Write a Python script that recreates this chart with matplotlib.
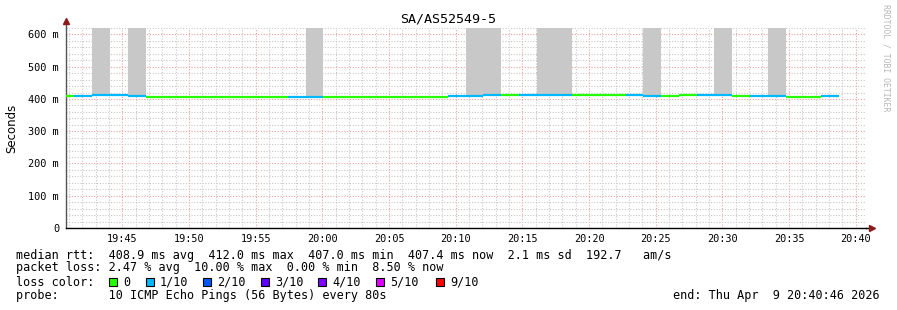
import numpy as np
import matplotlib.pyplot as plt
from matplotlib.ticker import MultipleLocator, FuncFormatter
from matplotlib.patches import Rectangle

# Chart data
title = "SA/AS52549-5"
start_min = 40 + 46 / 60.0      # 19:40:46 as minutes after 19:00
end_min = 100 + 46 / 60.0       # 20:40:46
first_step_min = 41 + 24 / 60.0 # first full 80 s step starts 19:41:24
step_sec = 80

# median rtt per step in ms (first value is the partial step before first_step_min)
median_ms = [408, 409, 412, 412, 410,
             407.5, 407.5, 407.5, 407.5, 407.5, 407.5, 407.5, 407.5,
             407, 407,
             407.5, 407.5, 407.5, 407.5, 407.5, 407.5, 407.5,
             408, 410, 412, 412, 412, 412, 412,
             411, 411, 411,
             412, 410, 409, 411.5, 412, 412, 409, 408, 408,
             407.5, 407.5, 409]
# lost pings out of 10 per step
lost = [0, 1, 1, 1, 1,
        0, 0, 0, 0, 0, 0, 0, 0,
        1, 1,
        0, 0, 0, 0, 0, 0, 0,
        1, 1, 1, 0, 1, 1, 1,
        0, 0, 0,
        1, 1, 0, 0, 1, 1, 0, 1, 1,
        0, 0, 1]
# top of the smoke (ms), 0 where no smoke
smoke_ms = [0, 0, 620, 0, 620,
            0, 0, 0, 0, 0, 0, 0, 0,
            0, 620,
            0, 0, 0, 0, 0, 0, 0,
            0, 620, 620, 0, 0, 620, 620,
            0, 0, 0,
            0, 620, 0, 0, 0, 620, 0, 0, 620,
            0, 0, 0]

loss_labels = ["0", "1/10", "2/10", "3/10", "4/10", "5/10", "9/10"]
loss_colors = ["#26ff00", "#00b8ff", "#0059ff", "#5e00ff", "#7e00ff", "#dd00ff", "#ff0000"]

stat_lines = [
    "median rtt:  408.9 ms avg  412.0 ms max  407.0 ms min  407.4 ms now  2.1 ms sd  192.7   am/s",
    "packet loss: 2.47 % avg  10.00 % max  0.00 % min  8.50 % now",
    "loss color:",
    "probe:       10 ICMP Echo Pings (56 Bytes) every 80s",
]
end_text = "end: Thu Apr  9 20:40:46 2026"

# step edges
step = step_sec / 60.0
n = len(median_ms)
lefts = [start_min] + [first_step_min + step * k for k in range(n - 1)]
rights = [first_step_min + step * k for k in range(n)]

W, H = 897, 310
fig = plt.figure(figsize=(W / 100, H / 100), dpi=100)
ax = fig.add_axes([66 / W, (H - 228) / H, 800 / W, 200 / H])

mono = "DejaVu Sans Mono"

# smoke
for l, r, m, s in zip(lefts, rights, median_ms, smoke_ms):
    if s > 0:
        ax.bar(l, s - m, bottom=m, width=r - l, align="edge", color="#c8c8c8", lw=0, zorder=2)

# median line coloured by loss
cols = [loss_colors[min(x, 6)] for x in lost]
ax.hlines(median_ms, lefts, rights, colors=cols, lw=1.6, zorder=3)

ax.set_xlim(start_min, end_min)
ax.set_ylim(0, 620)
ax.xaxis.set_major_locator(MultipleLocator(5))
ax.xaxis.set_minor_locator(MultipleLocator(1))
ax.yaxis.set_major_locator(MultipleLocator(100))
ax.yaxis.set_minor_locator(MultipleLocator(20))
ax.xaxis.set_major_formatter(FuncFormatter(lambda v, p: "%02d:%02d" % (19 + int(round(v)) // 60, int(round(v)) % 60)))
ax.yaxis.set_major_formatter(FuncFormatter(lambda v, p: "0" if v == 0 else "%d m" % v))

ax.grid(which="minor", color="#c8c8c8", linestyle=(0, (1, 1.5)), lw=0.8, zorder=0)
ax.grid(which="major", color="#f0a0a0", linestyle=(0, (1, 1.5)), lw=0.8, zorder=1)
ax.set_axisbelow(True)

ax.tick_params(which="both", length=0, labelsize=7.4, pad=5)
ax.tick_params(axis="x", pad=4)
for lab in ax.get_xticklabels() + ax.get_yticklabels():
    lab.set_family(mono)

for s in ["top", "right"]:
    ax.spines[s].set_visible(False)
ax.spines["left"].set_color("#555555")
ax.spines["bottom"].set_color("black")
ax.spines["left"].set_linewidth(1.0)
ax.spines["bottom"].set_linewidth(1.0)

# axis arrows
ax.plot([0, 0], [1, 1.03], color="#555555", lw=1.0, transform=ax.transAxes, clip_on=False)
ax.plot([0], [1.035], marker="^", color="#8b1a1a", ms=4, transform=ax.transAxes, clip_on=False)
ax.plot([1, 1.005], [0, 0], color="black", lw=1.0, transform=ax.transAxes, clip_on=False)
ax.plot([1.007], [0], marker=">", color="#8b1a1a", ms=4, transform=ax.transAxes, clip_on=False)

ax.set_ylabel("Seconds", fontsize=8.5, family="DejaVu Sans", labelpad=7)

fig.text(0.5, 1 - 19 / H, title, ha="center", va="center", fontsize=9.6, family=mono)
fig.text(886 / W, 1 - 4 / H, "RRDTOOL / TOBI OETIKER", rotation=270, ha="center", va="top",
         fontsize=5.9, family=mono, color="#b8b8b8")

ys = [255, 268, 282, 296]
for t, y in zip(stat_lines, ys):
    fig.text(16 / W, 1 - y / H, t, ha="left", va="center", fontsize=8.5, family=mono)
fig.text(880 / W, 1 - 296 / H, end_text, ha="right", va="center", fontsize=8.5, family=mono)

box_x = [109, 146, 203, 261, 318, 376, 436]
for bx, lab, c in zip(box_x, loss_labels, loss_colors):
    fig.patches.append(Rectangle((bx / W, 1 - 286 / H), 8 / W, 8 / H, transform=fig.transFigure,
                                 facecolor=c, edgecolor="black", lw=0.8))
    fig.text((bx + 14) / W, 1 - 282 / H, lab, ha="left", va="center", fontsize=8.5, family=mono)

fig.savefig("out.png", dpi=100)
